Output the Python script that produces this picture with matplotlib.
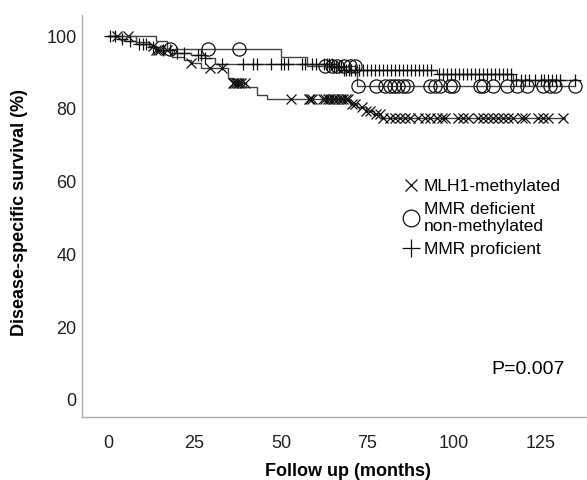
import numpy as np
import matplotlib
matplotlib.use("Agg")
import matplotlib.pyplot as plt
from matplotlib.lines import Line2D

plt.rcParams.update({
    'font.family': ['Liberation Sans', 'DejaVu Sans'],
    'font.size': 13,
})

# Kaplan-Meier step data (time in months, survival in %)
mlh1_t = [0, 8, 12, 14, 18.5, 22, 24, 27, 34.7, 36, 40, 43, 46, 70, 72, 74.5, 77, 79, 132]
mlh1_s = [100, 98.5, 97.2, 96.2, 94.2, 93.5, 92.7, 91.3, 88.6, 87.2, 86.1, 83.9, 82.8,
          81.5, 80.5, 79.5, 78.5, 77.5, 77.5]
mlh1_cens = [2.6, 5.8, 13, 14, 14.5, 15, 17, 24, 29.5, 33, 36, 36.5, 37, 37.5, 38, 38.5,
             39.5, 53, 58, 58.5, 59, 62, 62.8, 63.5, 64.2, 65, 65.7, 66.5, 67.3, 68, 68.7,
             69.4, 70.5, 71.5, 73.5, 74.5, 75.8, 77.5, 78.5, 79.5, 81.5, 83, 84.4, 85.8,
             87.3, 89.6, 91.6, 93.1, 95.1, 96.5, 97.4, 101.2, 102.6, 104, 106.9, 108.4,
             109.8, 111.3, 112.7, 114.2, 115.6, 117, 119.7, 120.5, 124.3, 125.7, 127.2,
             131.5]

mmrd_t = [0, 14, 17, 50, 57.5, 72, 135]
mmrd_s = [100, 98.8, 96.5, 94.3, 91.8, 86.2, 86.2]
mmrd_cens = [18, 29, 38, 62.7, 64.7, 66.2, 68.2, 70, 71.5, 72.3, 77.5, 80.1, 81.5, 82.7,
             83.8, 85.3, 86.4, 93.1, 94.5, 96, 98.8, 99.7, 107.5, 108.4, 111.3, 115.3,
             118.2, 121.1, 125.7, 127.7, 129.2, 135]

mmrp_t = [0, 3, 5, 8, 12, 15, 19, 24, 28, 31, 65, 68, 95, 117, 135]
mmrp_s = [100, 99.3, 98.6, 97.8, 97, 96.2, 95.4, 94.8, 94, 92.4, 91.6, 90.8, 89.6, 88.0, 88.0]
mmrp_cens = [0.6, 2, 4, 6.5, 9, 10, 11, 13, 16, 18, 20, 22, 26, 27, 28, 33, 39, 42, 43, 47,
             50, 51, 52, 56, 57, 59, 60, 62.5, 63.2, 63.9, 64.6, 65.3, 66, 66.7, 67.4, 68.1,
             68.8, 69.5, 70.2, 71.5, 72.6, 73.7, 74.8, 76, 77.2, 78.3, 79.5, 80.6, 81.8, 83,
             84.1, 85.3, 86.4, 87.6, 88.7, 89.9, 91, 92.2, 93.4, 95.5, 96.7, 97.9, 99,
             100.2, 101.3, 102.5, 103.6, 104.8, 106, 107.1, 108.3, 109.4, 110.6, 111.7,
             112.9, 114, 115.2, 116.3, 118, 119.2, 120.5, 121.6, 123.5, 125, 126, 127.2,
             128.4, 129.5, 130.6, 135]

labels = ['MLH1-methylated', 'MMR deficient\nnon-methylated', 'MMR proficient']
xticks = [0, 25, 50, 75, 100, 125]
yticks = [0, 20, 40, 60, 80, 100]


def surv_at(t, s, c):
    t = np.asarray(t)
    s = np.asarray(s)
    idx = np.searchsorted(t, np.asarray(c), side='right') - 1
    return s[np.clip(idx, 0, len(s) - 1)]


fig = plt.figure(figsize=(5.87, 4.8), dpi=100)
ax = fig.add_axes([0.1397, 0.131, 0.8603, 0.838])

groups = [
    (mlh1_t, mlh1_s, mlh1_cens, 'x', 7.5),
    (mmrd_t, mmrd_s, mmrd_cens, 'o', 9.5),
    (mmrp_t, mmrp_s, mmrp_cens, '+', 8),
]
for t, s, c, m, ms in groups:
    ax.step(t, s, where='post', color='#444444', lw=1.0)
    ax.plot(c, surv_at(t, s, c), ls='none', marker=m, ms=ms, mfc='none',
            mec='#111111', mew=0.9)

ax.set_xlim(-7.5, 138.4)
ax.set_ylim(-4.8, 105.9)
ax.set_xticks(xticks)
ax.set_yticks(yticks)
ax.tick_params(length=0, labelsize=13, labelcolor='#222222')
ax.tick_params(axis='x', pad=13)
ax.tick_params(axis='y', pad=4)
for sp in ['top', 'right']:
    ax.spines[sp].set_visible(False)
for sp in ['left', 'bottom']:
    ax.spines[sp].set_color('#aaaaaa')
    ax.spines[sp].set_linewidth(1)

fig.text(348 / 587, 1 - 472 / 480, 'Follow up (months)', fontsize=13,
         fontweight='bold', ha='center', va='center')
fig.text(20 / 587, 1 - 212 / 480, 'Disease-specific survival (%)', fontsize=13,
         fontweight='bold', ha='center', va='center', rotation=90)

ax.text(0.955, 0.118, 'P=0.007', transform=ax.transAxes, fontsize=14,
        ha='right', va='center')

handles = [
    Line2D([], [], ls='none', marker='x', ms=9, mec='#111111', mew=0.9),
    Line2D([], [], ls='none', marker='o', ms=12, mfc='none', mec='#111111', mew=0.9),
    Line2D([], [], ls='none', marker='+', ms=13, mec='#111111', mew=0.9),
]
ax.legend(handles, labels, frameon=False, loc='upper left',
          bbox_to_anchor=(0.637, 0.593), borderaxespad=0, borderpad=0,
          handlelength=0.9, handletextpad=0.25, labelspacing=0.45,
          fontsize=12.5)

fig.savefig('out.png', dpi=100)
